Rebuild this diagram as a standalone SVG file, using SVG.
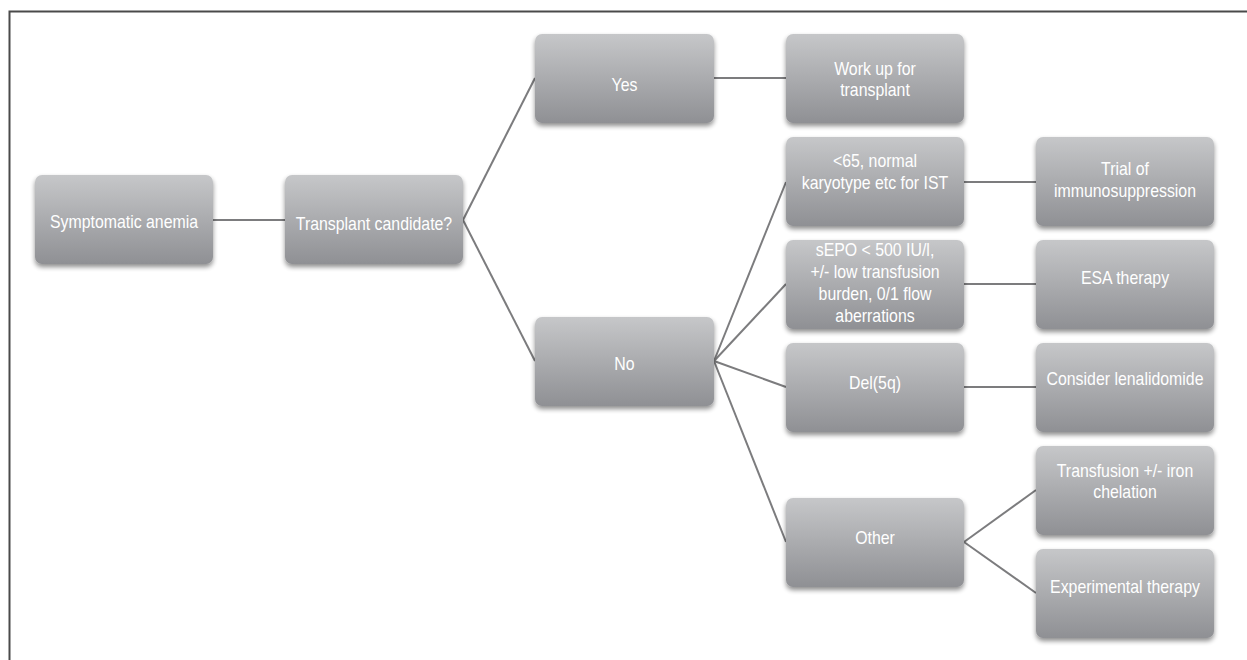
<svg xmlns="http://www.w3.org/2000/svg" width="1247" height="660" viewBox="0 0 1247 660">
<defs>
<linearGradient id="g" x1="0" y1="0" x2="0" y2="1">
<stop offset="0" stop-color="#c6c7c9"/>
<stop offset="1" stop-color="#8f9094"/>
</linearGradient>
<filter id="sh" x="-10%" y="-10%" width="120%" height="130%">
<feGaussianBlur in="SourceAlpha" stdDeviation="2.5"/>
<feOffset dy="3" result="b"/>
<feComponentTransfer><feFuncA type="linear" slope="0.45"/></feComponentTransfer>
<feMerge><feMergeNode/><feMergeNode in="SourceGraphic"/></feMerge>
</filter>
</defs>
<style>
.box{fill:url(#g);filter:url(#sh)}
.t{font-family:"Liberation Sans",Arial,sans-serif;font-size:19px;fill:#ffffff;text-anchor:middle}
.c{stroke:#7c7c7e;stroke-width:2;fill:none}
.fr{stroke:#4a4a4a;stroke-width:2;fill:none}
</style>
<rect width="1247" height="660" fill="#ffffff"/>
<path class="fr" d="M9.5 660 V11.5 H1247"/>
<g id="connectors">
<path class="c" d="M213 220 H285"/>
<path class="c" d="M463 220 L535 78"/>
<path class="c" d="M463 220 L535 361"/>
<path class="c" d="M714 78 H786"/>
<path class="c" d="M714 361 L786 182"/>
<path class="c" d="M714 361 L786 284"/>
<path class="c" d="M714 361 L786 387"/>
<path class="c" d="M714 361 L786 542"/>
<path class="c" d="M964 182 H1036"/>
<path class="c" d="M964 284 H1036"/>
<path class="c" d="M964 387 H1036"/>
<path class="c" d="M964 542 L1036 490"/>
<path class="c" d="M964 542 L1036 593"/>
</g>
<g id="n-symptomatic">
<rect class="box" x="35" y="175" width="178" height="89" rx="7"/>
<g transform="translate(124,0) scale(0.835,1)"><text class="t" x="0" y="228">Symptomatic anemia</text></g>
</g>
<g id="n-candidate">
<rect class="box" x="285" y="175" width="178" height="89" rx="7"/>
<g transform="translate(374,0) scale(0.835,1)"><text class="t" x="0" y="230">Transplant candidate?</text></g>
</g>
<g id="n-yes">
<rect class="box" x="535" y="34" width="179" height="89" rx="7"/>
<g transform="translate(624.5,0) scale(0.835,1)"><text class="t" x="0" y="91">Yes</text></g>
</g>
<g id="n-no">
<rect class="box" x="535" y="317" width="179" height="89" rx="7"/>
<g transform="translate(624.5,0) scale(0.835,1)"><text class="t" x="0" y="370">No</text></g>
</g>
<g id="n-workup">
<rect class="box" x="786" y="34" width="178" height="89" rx="7"/>
<g transform="translate(875,0) scale(0.835,1)"><text class="t" x="0" y="75">Work up for</text><text class="t" x="0" y="96">transplant</text></g>
</g>
<g id="n-ist">
<rect class="box" x="786" y="137" width="178" height="89" rx="7"/>
<g transform="translate(875,0) scale(0.835,1)"><text class="t" x="0" y="167">&lt;65, normal</text><text class="t" x="0" y="189">karyotype etc for IST</text></g>
</g>
<g id="n-sepo">
<rect class="box" x="786" y="240" width="178" height="89" rx="7"/>
<g transform="translate(875,0) scale(0.835,1)"><text class="t" x="0" y="256">sEPO &lt; 500 IU/l,</text><text class="t" x="0" y="278">+/- low transfusion</text><text class="t" x="0" y="300">burden, 0/1 flow</text><text class="t" x="0" y="322">aberrations</text></g>
</g>
<g id="n-del5q">
<rect class="box" x="786" y="343" width="178" height="89" rx="7"/>
<g transform="translate(875,0) scale(0.835,1)"><text class="t" x="0" y="389">Del(5q)</text></g>
</g>
<g id="n-other">
<rect class="box" x="786" y="498" width="178" height="89" rx="7"/>
<g transform="translate(875,0) scale(0.835,1)"><text class="t" x="0" y="544">Other</text></g>
</g>
<g id="n-trial">
<rect class="box" x="1036" y="137" width="178" height="89" rx="7"/>
<g transform="translate(1125,0) scale(0.835,1)"><text class="t" x="0" y="175">Trial of</text><text class="t" x="0" y="197">immunosuppression</text></g>
</g>
<g id="n-esa">
<rect class="box" x="1036" y="240" width="178" height="89" rx="7"/>
<g transform="translate(1125,0) scale(0.835,1)"><text class="t" x="0" y="284">ESA therapy</text></g>
</g>
<g id="n-lenalidomide">
<rect class="box" x="1036" y="343" width="178" height="89" rx="7"/>
<g transform="translate(1125,0) scale(0.835,1)"><text class="t" x="0" y="385">Consider lenalidomide</text></g>
</g>
<g id="n-transfusion">
<rect class="box" x="1036" y="446" width="178" height="89" rx="7"/>
<g transform="translate(1125,0) scale(0.835,1)"><text class="t" x="0" y="477">Transfusion +/- iron</text><text class="t" x="0" y="498">chelation</text></g>
</g>
<g id="n-experimental">
<rect class="box" x="1036" y="549" width="178" height="89" rx="7"/>
<g transform="translate(1125,0) scale(0.835,1)"><text class="t" x="0" y="593">Experimental therapy</text></g>
</g>
</svg>
